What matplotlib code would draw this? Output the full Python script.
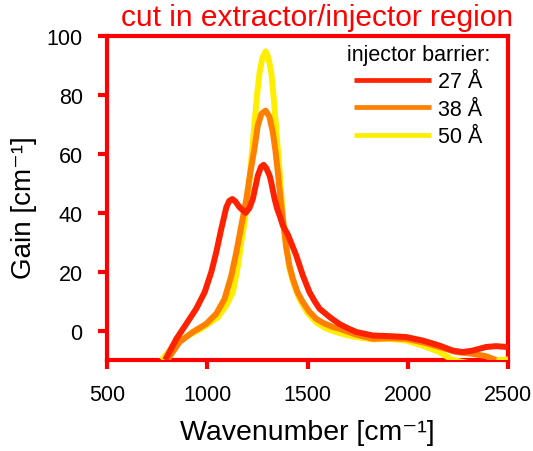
import matplotlib
matplotlib.use('Agg')
import matplotlib.pyplot as plt

plt.rcParams['font.family'] = ['Liberation Sans', 'DejaVu Sans']

# Daten
wn_27 = [790, 846, 896, 945, 987, 1020, 1045, 1070, 1095, 1110, 1125, 1140, 1161,
         1191, 1210, 1227, 1252, 1268, 1281, 1295, 1311, 1319, 1336, 1350, 1361,
         1377, 1402, 1420, 1444, 1477, 1510, 1535, 1560, 1610, 1659, 1700, 1743,
         1826, 1909, 1992, 2075, 2158, 2224, 2274, 2324, 2390, 2440, 2500]
gain_27 = [-10, -2.8, 2.3, 7.4, 13, 19.8, 26.6, 34.5, 41.8, 44, 44.6, 43.8, 41.8,
           39.9, 41.5, 44.6, 52.5, 55.5, 56.2, 55, 52.5, 50.3, 44.6, 41, 39,
           35.6, 32.5, 29.5, 25.4, 18.6, 13, 10, 7.4, 4.6, 2.2, 0.8, -0.5,
           -1.7, -1.9, -2.2, -3.4, -5.1, -6.8, -7.3, -6.8, -5.6, -5.3, -5.6]

wn_38 = [800, 862, 928, 995, 1045, 1086, 1120, 1145, 1170, 1195, 1215, 1236,
         1252, 1270, 1291, 1310, 1327, 1340, 1352, 1365, 1377, 1394, 1410, 1427,
         1450, 1477, 1510, 1543, 1580, 1626, 1659, 1743, 1826, 1909, 1992, 2075,
         2158, 2241, 2324, 2390, 2440]
gain_38 = [-10, -3.9, -0.5, 2.3, 5.7, 10.7, 18.6, 26.6, 35.6, 44.6, 53.7, 62,
           69.5, 73.5, 74.6, 72.5, 67.3, 61, 53.7, 45, 37.9, 28, 22, 17.5,
           13, 9.6, 6.3, 4, 2.5, 1.2, 0.6, -1.4, -2.8, -2.6, -2.8, -4,
           -5.6, -7.3, -7.9, -8.7, -10]

wn_50 = [772, 840, 904, 970, 1053, 1095, 1128, 1153, 1170, 1186, 1205, 1220,
         1236, 1250, 1261, 1275, 1291, 1305, 1319, 1330, 1341, 1361, 1380, 1410,
         1435, 1460, 1500, 1543, 1590, 1643, 1700, 1743, 1826, 1909, 1992, 2075,
         2158, 2224, 2300, 2420, 2455, 2500]
gain_50 = [-10, -4.5, -1.7, 0.6, 4.5, 8.5, 13, 22, 30, 36.7, 47, 58,
           70.6, 81, 87.6, 92.5, 94.7, 92.5, 87.6, 80, 70.6, 53.7, 36, 20.9,
           15, 10.7, 6, 2.8, 0.8, -0.5, -1.6, -2.2, -3, -2.8, -3.4, -5.1,
           -7.3, -10, -11, -11, -10, -9.8]

labels = ['27 Å', '38 Å', '50 Å']
colors = ['#ff2200', '#ff8000', '#ffee00']

fig = plt.figure(figsize=(5.33, 4.52), dpi=100)
ax = fig.add_axes([0.2008, 0.2013, 0.7523, 0.7175])

# gelb zuerst, rot oben
l50, = ax.plot(wn_50, gain_50, color=colors[2], lw=4.3, zorder=3, solid_capstyle='butt',
               solid_joinstyle='round')
l38, = ax.plot(wn_38, gain_38, color=colors[1], lw=4.3, zorder=4, solid_capstyle='butt',
               solid_joinstyle='round')
l27, = ax.plot(wn_27, gain_27, color=colors[0], lw=4.3, zorder=5, solid_capstyle='butt',
               solid_joinstyle='round')

ax.set_xlim(500, 2500)
ax.set_ylim(-10, 100)
ax.set_xticks([500, 1000, 1500, 2000, 2500])
ax.set_yticks([0, 20, 40, 60, 80, 100])

for s in ax.spines.values():
    s.set_color('red')
    s.set_linewidth(3)
ax.tick_params(direction='out', length=6.5, width=3, color='red',
               labelsize=15.5, labelcolor='black', pad=11)

ax.set_xlabel('Wavenumber [cm⁻¹]', fontsize=20.5, labelpad=10)
ax.set_ylabel('Gain [cm⁻¹]', fontsize=20)
ax.yaxis.set_label_coords(-0.175, 0.472)

leg = ax.legend([l27, l38, l50], labels, title='injector barrier:', loc='upper right',
                bbox_to_anchor=(0.955, 0.975), frameon=False, fontsize=15.5,
                title_fontsize=15.5, handlelength=3.6, borderpad=0, borderaxespad=0,
                labelspacing=0.3, handletextpad=0.33)
for ln in leg.get_lines():
    ln.set_linewidth(3.4)

fig.text(0.962, 0.96, 'cut in extractor/injector region', color='red',
         fontsize=21.5, ha='right', va='center')

plt.savefig('out.png', dpi=100)
